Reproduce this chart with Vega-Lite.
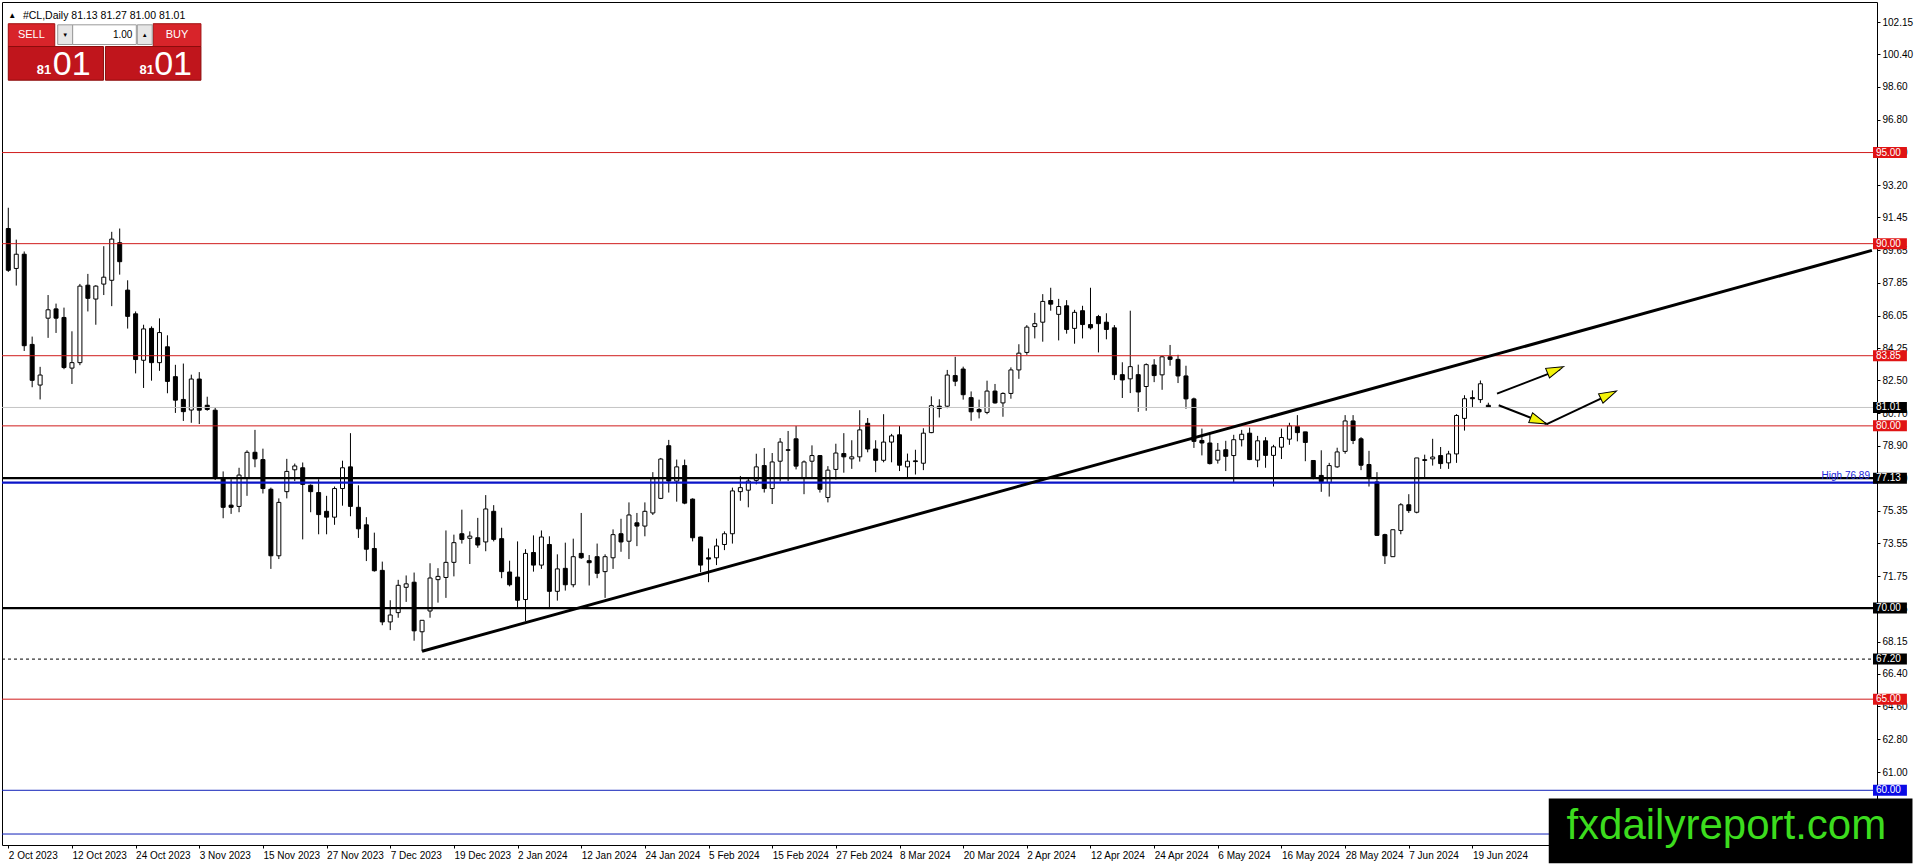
{
  "$schema": "https://vega.github.io/schema/vega-lite/v6.json",
  "width": 1875,
  "height": 843,
  "autosize": {"type": "none"},
  "padding": {"left": 2, "top": 2, "right": 39, "bottom": 21},
  "background": "white",
  "config": {
    "view": {"stroke": "#000000", "strokeWidth": 1},
    "font": "Liberation Sans",
    "axis": {"labelFont": "Liberation Sans", "labelFontSize": 10, "labelColor": "#000000", "tickColor": "#000000", "domain": false, "grid": false, "title": null, "labelOverlap": false, "labelFlush": false}
  },
  "datasets": {
    "one": [{}],
    "bars": [
      {"i":0,"d":"2023-10-02","o":90.83,"h":91.97,"l":88.45,"c":88.54},
      {"i":1,"d":"2023-10-03","o":88.64,"h":90.22,"l":87.70,"c":89.42},
      {"i":2,"d":"2023-10-04","o":89.42,"h":89.57,"l":84.11,"c":84.40},
      {"i":3,"d":"2023-10-05","o":84.47,"h":84.90,"l":82.12,"c":82.50},
      {"i":4,"d":"2023-10-06","o":82.24,"h":83.24,"l":81.45,"c":82.79},
      {"i":5,"d":"2023-10-09","o":85.91,"h":87.18,"l":84.83,"c":86.37},
      {"i":6,"d":"2023-10-10","o":86.42,"h":86.71,"l":85.10,"c":85.91},
      {"i":7,"d":"2023-10-11","o":85.95,"h":86.49,"l":83.11,"c":83.20},
      {"i":8,"d":"2023-10-12","o":83.17,"h":85.19,"l":82.30,"c":83.47},
      {"i":9,"d":"2023-10-13","o":83.47,"h":87.79,"l":83.33,"c":87.67},
      {"i":10,"d":"2023-10-16","o":87.72,"h":88.34,"l":86.28,"c":87.00},
      {"i":11,"d":"2023-10-17","o":86.96,"h":87.72,"l":85.55,"c":87.67},
      {"i":12,"d":"2023-10-18","o":87.78,"h":89.86,"l":87.18,"c":88.16},
      {"i":13,"d":"2023-10-19","o":87.99,"h":90.65,"l":86.57,"c":90.25},
      {"i":14,"d":"2023-10-20","o":90.05,"h":90.83,"l":88.30,"c":89.01},
      {"i":15,"d":"2023-10-23","o":87.45,"h":87.99,"l":85.34,"c":86.01},
      {"i":16,"d":"2023-10-24","o":86.15,"h":86.28,"l":82.88,"c":83.64},
      {"i":17,"d":"2023-10-25","o":83.60,"h":85.55,"l":82.08,"c":85.32},
      {"i":18,"d":"2023-10-26","o":85.35,"h":85.46,"l":82.48,"c":83.47},
      {"i":19,"d":"2023-10-27","o":83.47,"h":85.90,"l":83.02,"c":85.12},
      {"i":20,"d":"2023-10-30","o":84.34,"h":84.97,"l":81.79,"c":82.44},
      {"i":21,"d":"2023-10-31","o":82.70,"h":83.35,"l":80.71,"c":81.41},
      {"i":22,"d":"2023-11-01","o":81.45,"h":83.42,"l":80.27,"c":80.78},
      {"i":23,"d":"2023-11-02","o":80.87,"h":82.81,"l":80.17,"c":82.57},
      {"i":24,"d":"2023-11-03","o":82.57,"h":82.95,"l":80.10,"c":80.86},
      {"i":25,"d":"2023-11-06","o":81.13,"h":81.60,"l":80.83,"c":80.90},
      {"i":26,"d":"2023-11-07","o":80.86,"h":81.00,"l":77.03,"c":77.12},
      {"i":27,"d":"2023-11-08","o":77.12,"h":77.50,"l":74.93,"c":75.53},
      {"i":28,"d":"2023-11-09","o":75.65,"h":77.07,"l":75.17,"c":75.53},
      {"i":29,"d":"2023-11-10","o":75.58,"h":77.70,"l":75.26,"c":77.30},
      {"i":30,"d":"2023-11-13","o":77.16,"h":78.66,"l":76.16,"c":78.55},
      {"i":31,"d":"2023-11-14","o":78.55,"h":79.78,"l":77.73,"c":78.19},
      {"i":32,"d":"2023-11-15","o":78.15,"h":78.75,"l":76.29,"c":76.56},
      {"i":33,"d":"2023-11-16","o":76.52,"h":76.61,"l":72.15,"c":72.87},
      {"i":34,"d":"2023-11-17","o":72.87,"h":76.02,"l":72.69,"c":75.80},
      {"i":35,"d":"2023-11-20","o":76.39,"h":78.19,"l":76.02,"c":77.50},
      {"i":36,"d":"2023-11-21","o":77.59,"h":77.93,"l":76.97,"c":77.80},
      {"i":37,"d":"2023-11-22","o":77.70,"h":77.99,"l":73.77,"c":76.79},
      {"i":38,"d":"2023-11-23","o":76.74,"h":76.79,"l":75.26,"c":76.39},
      {"i":39,"d":"2023-11-24","o":76.34,"h":77.07,"l":74.05,"c":75.13},
      {"i":40,"d":"2023-11-27","o":75.31,"h":76.16,"l":74.05,"c":74.99},
      {"i":41,"d":"2023-11-28","o":74.99,"h":76.67,"l":74.57,"c":76.56},
      {"i":42,"d":"2023-11-29","o":76.56,"h":78.09,"l":75.62,"c":77.70},
      {"i":43,"d":"2023-11-30","o":77.75,"h":79.60,"l":75.04,"c":75.58},
      {"i":44,"d":"2023-12-01","o":75.53,"h":76.74,"l":73.85,"c":74.35},
      {"i":45,"d":"2023-12-04","o":74.57,"h":74.99,"l":72.58,"c":73.23},
      {"i":46,"d":"2023-12-05","o":73.27,"h":74.14,"l":72.00,"c":72.05},
      {"i":47,"d":"2023-12-06","o":72.07,"h":72.55,"l":69.06,"c":69.24},
      {"i":48,"d":"2023-12-07","o":69.24,"h":70.43,"l":68.79,"c":69.62},
      {"i":49,"d":"2023-12-08","o":69.75,"h":71.55,"l":69.47,"c":71.25},
      {"i":50,"d":"2023-12-11","o":71.14,"h":71.79,"l":70.34,"c":71.33},
      {"i":51,"d":"2023-12-12","o":71.42,"h":71.95,"l":68.21,"c":68.75},
      {"i":52,"d":"2023-12-13","o":68.70,"h":69.33,"l":67.63,"c":69.33},
      {"i":53,"d":"2023-12-14","o":69.84,"h":72.46,"l":69.47,"c":71.65},
      {"i":54,"d":"2023-12-15","o":71.56,"h":72.19,"l":70.30,"c":71.74},
      {"i":55,"d":"2023-12-18","o":71.68,"h":74.26,"l":70.56,"c":72.51},
      {"i":56,"d":"2023-12-19","o":72.51,"h":74.03,"l":71.74,"c":73.59},
      {"i":57,"d":"2023-12-20","o":74.08,"h":75.40,"l":73.54,"c":73.77},
      {"i":58,"d":"2023-12-21","o":73.83,"h":74.21,"l":72.42,"c":73.95},
      {"i":59,"d":"2023-12-22","o":73.86,"h":74.95,"l":73.31,"c":73.46},
      {"i":60,"d":"2023-12-26","o":73.63,"h":76.20,"l":73.12,"c":75.44},
      {"i":61,"d":"2023-12-27","o":75.31,"h":75.65,"l":73.66,"c":73.77},
      {"i":62,"d":"2023-12-28","o":73.81,"h":74.41,"l":71.64,"c":72.00},
      {"i":63,"d":"2023-12-29","o":71.98,"h":72.60,"l":71.19,"c":71.28},
      {"i":64,"d":"2024-01-02","o":71.70,"h":73.66,"l":70.05,"c":70.43},
      {"i":65,"d":"2024-01-03","o":70.47,"h":73.23,"l":69.29,"c":73.00},
      {"i":66,"d":"2024-01-04","o":73.05,"h":73.99,"l":72.00,"c":72.36},
      {"i":67,"d":"2024-01-05","o":72.36,"h":74.26,"l":72.15,"c":73.90},
      {"i":68,"d":"2024-01-08","o":73.49,"h":73.94,"l":70.05,"c":70.92},
      {"i":69,"d":"2024-01-09","o":70.92,"h":72.95,"l":70.41,"c":72.15},
      {"i":70,"d":"2024-01-10","o":72.18,"h":73.59,"l":70.96,"c":71.28},
      {"i":71,"d":"2024-01-11","o":71.28,"h":73.81,"l":71.14,"c":72.82},
      {"i":72,"d":"2024-01-12","o":73.00,"h":75.22,"l":72.70,"c":72.76},
      {"i":73,"d":"2024-01-15","o":72.60,"h":72.91,"l":71.24,"c":72.49},
      {"i":74,"d":"2024-01-16","o":72.82,"h":73.54,"l":71.64,"c":71.91},
      {"i":75,"d":"2024-01-17","o":72.00,"h":72.95,"l":70.56,"c":72.82},
      {"i":76,"d":"2024-01-18","o":72.76,"h":74.32,"l":72.15,"c":74.03},
      {"i":77,"d":"2024-01-19","o":74.08,"h":74.90,"l":73.09,"c":73.63},
      {"i":78,"d":"2024-01-22","o":73.67,"h":75.80,"l":72.69,"c":75.11},
      {"i":79,"d":"2024-01-23","o":74.68,"h":75.22,"l":73.40,"c":74.50},
      {"i":80,"d":"2024-01-24","o":74.50,"h":75.80,"l":73.94,"c":75.31},
      {"i":81,"d":"2024-01-25","o":75.22,"h":77.46,"l":75.11,"c":77.10},
      {"i":82,"d":"2024-01-26","o":76.02,"h":78.24,"l":75.98,"c":78.18},
      {"i":83,"d":"2024-01-29","o":78.91,"h":79.23,"l":76.34,"c":76.97},
      {"i":84,"d":"2024-01-30","o":76.97,"h":78.15,"l":75.84,"c":77.75},
      {"i":85,"d":"2024-01-31","o":77.82,"h":78.15,"l":75.70,"c":75.76},
      {"i":86,"d":"2024-02-01","o":75.98,"h":76.02,"l":73.66,"c":73.86},
      {"i":87,"d":"2024-02-02","o":73.90,"h":73.92,"l":71.97,"c":72.36},
      {"i":88,"d":"2024-02-05","o":72.76,"h":73.27,"l":71.42,"c":72.69},
      {"i":89,"d":"2024-02-06","o":72.76,"h":73.81,"l":72.36,"c":73.41},
      {"i":90,"d":"2024-02-07","o":73.49,"h":74.21,"l":73.18,"c":74.08},
      {"i":91,"d":"2024-02-08","o":74.08,"h":76.61,"l":73.54,"c":76.43},
      {"i":92,"d":"2024-02-09","o":76.39,"h":77.25,"l":75.89,"c":76.61},
      {"i":93,"d":"2024-02-12","o":76.47,"h":77.10,"l":75.53,"c":76.97},
      {"i":94,"d":"2024-02-13","o":77.01,"h":78.47,"l":76.79,"c":77.75},
      {"i":95,"d":"2024-02-14","o":77.82,"h":78.78,"l":76.34,"c":76.56},
      {"i":96,"d":"2024-02-15","o":76.56,"h":78.51,"l":75.71,"c":78.02},
      {"i":97,"d":"2024-02-16","o":78.06,"h":79.33,"l":76.95,"c":79.11},
      {"i":98,"d":"2024-02-19","o":78.69,"h":79.72,"l":76.97,"c":78.66},
      {"i":99,"d":"2024-02-20","o":79.29,"h":79.99,"l":77.61,"c":77.79},
      {"i":100,"d":"2024-02-21","o":77.14,"h":78.10,"l":76.25,"c":78.02},
      {"i":101,"d":"2024-02-22","o":78.06,"h":78.93,"l":77.14,"c":78.37},
      {"i":102,"d":"2024-02-23","o":78.37,"h":78.40,"l":76.34,"c":76.52},
      {"i":103,"d":"2024-02-26","o":76.07,"h":77.79,"l":75.80,"c":77.57},
      {"i":104,"d":"2024-02-27","o":77.61,"h":79.02,"l":77.06,"c":78.51},
      {"i":105,"d":"2024-02-28","o":78.48,"h":79.60,"l":77.43,"c":78.30},
      {"i":106,"d":"2024-02-29","o":78.19,"h":79.21,"l":77.64,"c":78.30},
      {"i":107,"d":"2024-03-01","o":78.30,"h":80.86,"l":78.04,"c":79.78},
      {"i":108,"d":"2024-03-04","o":80.14,"h":80.43,"l":78.55,"c":78.73},
      {"i":109,"d":"2024-03-05","o":78.73,"h":79.21,"l":77.46,"c":78.11},
      {"i":110,"d":"2024-03-06","o":78.11,"h":80.64,"l":78.00,"c":79.11},
      {"i":111,"d":"2024-03-07","o":79.11,"h":79.56,"l":78.00,"c":79.45},
      {"i":112,"d":"2024-03-08","o":79.51,"h":79.99,"l":77.52,"c":77.84},
      {"i":113,"d":"2024-03-11","o":77.75,"h":78.48,"l":77.14,"c":78.06},
      {"i":114,"d":"2024-03-12","o":78.08,"h":78.69,"l":77.33,"c":78.04},
      {"i":115,"d":"2024-03-13","o":77.95,"h":79.87,"l":77.57,"c":79.60},
      {"i":116,"d":"2024-03-14","o":79.63,"h":81.62,"l":79.60,"c":81.11},
      {"i":117,"d":"2024-03-15","o":81.08,"h":81.46,"l":80.46,"c":80.95},
      {"i":118,"d":"2024-03-18","o":81.08,"h":83.07,"l":80.97,"c":82.79},
      {"i":119,"d":"2024-03-19","o":82.76,"h":83.79,"l":82.18,"c":82.45},
      {"i":120,"d":"2024-03-20","o":83.12,"h":83.25,"l":81.44,"c":81.71},
      {"i":121,"d":"2024-03-21","o":81.55,"h":81.89,"l":80.28,"c":80.77},
      {"i":122,"d":"2024-03-22","o":80.90,"h":81.44,"l":80.41,"c":80.77},
      {"i":123,"d":"2024-03-25","o":80.74,"h":82.48,"l":80.64,"c":81.91},
      {"i":124,"d":"2024-03-26","o":81.91,"h":82.30,"l":81.22,"c":81.26},
      {"i":125,"d":"2024-03-27","o":81.26,"h":81.84,"l":80.50,"c":81.78},
      {"i":126,"d":"2024-03-28","o":81.78,"h":83.21,"l":81.49,"c":83.07},
      {"i":127,"d":"2024-04-01","o":83.07,"h":84.48,"l":82.58,"c":83.99},
      {"i":128,"d":"2024-04-02","o":84.03,"h":85.53,"l":83.90,"c":85.42},
      {"i":129,"d":"2024-04-03","o":85.45,"h":86.20,"l":84.80,"c":85.61},
      {"i":130,"d":"2024-04-04","o":85.69,"h":87.23,"l":84.62,"c":86.83},
      {"i":131,"d":"2024-04-05","o":86.88,"h":87.58,"l":86.32,"c":86.68},
      {"i":132,"d":"2024-04-08","o":86.12,"h":86.97,"l":84.69,"c":86.55},
      {"i":133,"d":"2024-04-09","o":86.59,"h":86.90,"l":85.06,"c":85.29},
      {"i":134,"d":"2024-04-10","o":85.35,"h":86.37,"l":84.51,"c":86.23},
      {"i":135,"d":"2024-04-11","o":86.32,"h":86.59,"l":84.80,"c":85.56},
      {"i":136,"d":"2024-04-12","o":85.56,"h":87.58,"l":85.29,"c":85.38},
      {"i":137,"d":"2024-04-15","o":86.00,"h":86.09,"l":84.03,"c":85.61},
      {"i":138,"d":"2024-04-16","o":85.69,"h":86.18,"l":84.75,"c":85.29},
      {"i":139,"d":"2024-04-17","o":85.38,"h":85.53,"l":82.52,"c":82.81},
      {"i":140,"d":"2024-04-18","o":82.81,"h":83.49,"l":81.53,"c":82.52},
      {"i":141,"d":"2024-04-19","o":82.58,"h":86.32,"l":81.80,"c":83.25},
      {"i":142,"d":"2024-04-22","o":82.81,"h":83.36,"l":80.77,"c":81.86},
      {"i":143,"d":"2024-04-23","o":82.16,"h":83.43,"l":80.83,"c":83.36},
      {"i":144,"d":"2024-04-24","o":83.34,"h":83.66,"l":82.40,"c":82.76},
      {"i":145,"d":"2024-04-25","o":82.80,"h":83.85,"l":81.98,"c":83.79},
      {"i":146,"d":"2024-04-26","o":83.79,"h":84.44,"l":83.30,"c":83.65},
      {"i":147,"d":"2024-04-29","o":83.65,"h":83.90,"l":82.35,"c":82.74},
      {"i":148,"d":"2024-04-30","o":82.74,"h":83.30,"l":80.94,"c":81.48},
      {"i":149,"d":"2024-05-01","o":81.48,"h":81.55,"l":78.79,"c":79.15},
      {"i":150,"d":"2024-05-02","o":79.20,"h":79.85,"l":78.38,"c":79.06},
      {"i":151,"d":"2024-05-03","o":79.06,"h":79.56,"l":77.88,"c":77.93},
      {"i":152,"d":"2024-05-06","o":78.12,"h":79.06,"l":77.93,"c":78.66},
      {"i":153,"d":"2024-05-07","o":78.69,"h":79.18,"l":77.52,"c":78.33},
      {"i":154,"d":"2024-05-08","o":78.37,"h":79.51,"l":76.92,"c":79.24},
      {"i":155,"d":"2024-05-09","o":79.24,"h":79.78,"l":78.87,"c":79.54},
      {"i":156,"d":"2024-05-10","o":79.60,"h":79.90,"l":78.12,"c":78.15},
      {"i":157,"d":"2024-05-13","o":78.12,"h":79.45,"l":77.73,"c":79.18},
      {"i":158,"d":"2024-05-14","o":79.18,"h":79.38,"l":77.70,"c":78.38},
      {"i":159,"d":"2024-05-15","o":78.38,"h":78.96,"l":76.67,"c":78.85},
      {"i":160,"d":"2024-05-16","o":78.83,"h":79.85,"l":78.18,"c":79.36},
      {"i":161,"d":"2024-05-17","o":79.27,"h":80.17,"l":78.96,"c":80.00},
      {"i":162,"d":"2024-05-20","o":79.96,"h":80.59,"l":79.15,"c":79.63},
      {"i":163,"d":"2024-05-21","o":79.67,"h":79.67,"l":78.06,"c":79.09},
      {"i":164,"d":"2024-05-22","o":78.10,"h":78.10,"l":77.07,"c":77.12},
      {"i":165,"d":"2024-05-23","o":77.28,"h":78.66,"l":76.38,"c":76.94},
      {"i":166,"d":"2024-05-24","o":76.89,"h":77.97,"l":76.12,"c":77.82},
      {"i":167,"d":"2024-05-27","o":77.75,"h":78.80,"l":77.70,"c":78.57},
      {"i":168,"d":"2024-05-28","o":78.60,"h":80.59,"l":78.47,"c":80.27},
      {"i":169,"d":"2024-05-29","o":80.27,"h":80.59,"l":79.00,"c":79.20},
      {"i":170,"d":"2024-05-30","o":79.29,"h":79.38,"l":77.57,"c":77.84},
      {"i":171,"d":"2024-05-31","o":77.88,"h":78.63,"l":76.67,"c":77.16},
      {"i":172,"d":"2024-06-03","o":76.92,"h":77.46,"l":73.96,"c":73.99},
      {"i":173,"d":"2024-06-04","o":74.03,"h":74.08,"l":72.42,"c":72.87},
      {"i":174,"d":"2024-06-05","o":72.82,"h":74.30,"l":72.82,"c":74.30},
      {"i":175,"d":"2024-06-06","o":74.26,"h":75.76,"l":74.05,"c":75.67},
      {"i":176,"d":"2024-06-07","o":75.67,"h":76.25,"l":75.22,"c":75.35},
      {"i":177,"d":"2024-06-10","o":75.26,"h":78.24,"l":75.20,"c":78.24},
      {"i":178,"d":"2024-06-11","o":78.10,"h":78.42,"l":77.16,"c":78.15},
      {"i":179,"d":"2024-06-12","o":78.19,"h":79.29,"l":77.82,"c":78.29},
      {"i":180,"d":"2024-06-13","o":78.37,"h":78.84,"l":77.64,"c":77.93},
      {"i":181,"d":"2024-06-14","o":77.97,"h":78.63,"l":77.64,"c":78.46},
      {"i":182,"d":"2024-06-17","o":78.46,"h":80.64,"l":77.97,"c":80.57},
      {"i":183,"d":"2024-06-18","o":80.41,"h":81.68,"l":79.74,"c":81.49},
      {"i":184,"d":"2024-06-19","o":81.55,"h":81.95,"l":81.01,"c":81.49},
      {"i":185,"d":"2024-06-20","o":81.44,"h":82.49,"l":81.26,"c":82.31},
      {"i":186,"d":"2024-06-21","o":81.13,"h":81.27,"l":81.00,"c":81.01}
    ],
    "levels": [
      {"price":95.00,"kind":"level"},
      {"price":90.00,"kind":"level"},
      {"price":83.85,"kind":"level"},
      {"price":81.01,"kind":"bid"},
      {"price":80.00,"kind":"level"},
      {"price":77.13,"kind":"pivot"},
      {"price":76.89,"kind":"high"},
      {"price":70.00,"kind":"pivot"},
      {"price":67.20,"kind":"low"},
      {"price":65.00,"kind":"level"},
      {"price":60.00,"kind":"target"},
      {"price":57.60,"kind":"target"}
    ]
  },
  "layer": [
    {
      "data": {"name": "bars"},
      "mark": {"type": "rule", "color": "#000000", "strokeWidth": 1, "clip": true},
      "encoding": {
        "x": {"field": "i", "type": "quantitative", "scale": {"domain": [-0.1625, 234.2125], "nice": false, "zero": false},
          "axis": {"orient": "bottom", "values": [0,8,16,24,32,40,48,56,64,72,80,88,96,104,112,120,128,136,144,152,160,168,176,184], "tickCount": 60,
            "labelExpr": "['2 Oct 2023','12 Oct 2023','24 Oct 2023','3 Nov 2023','15 Nov 2023','27 Nov 2023','7 Dec 2023','19 Dec 2023','2 Jan 2024','12 Jan 2024','24 Jan 2024','5 Feb 2024','15 Feb 2024','27 Feb 2024','8 Mar 2024','20 Mar 2024','2 Apr 2024','12 Apr 2024','24 Apr 2024','6 May 2024','16 May 2024','28 May 2024','7 Jun 2024','19 Jun 2024'][round(datum.value/8)]",
            "labelAlign": "left", "labelPadding": 2, "tickSize": 3, "labelFlush": false, "labelOverlap": false}},
        "y": {"field": "l", "type": "quantitative", "scale": {"domain": [57.272, 102.988], "nice": false, "zero": false},
          "axis": {"orient": "right", "values": [102.15,100.4,98.6,96.8,95.0,93.2,91.45,89.65,87.85,86.05,84.25,82.5,80.7,78.9,77.1,75.35,73.55,71.75,69.95,68.15,66.4,64.6,62.8,61.0,59.2], "tickCount": 60,
            "format": ".2f", "tickSize": 3, "labelPadding": 2, "labelOverlap": false, "labelFlush": false, "labelBound": false}},
        "y2": {"field": "h"}
      }
    },
    {
      "data": {"name": "bars"},
      "mark": {"type": "bar", "width": 4, "stroke": "#000000", "strokeWidth": 1, "clip": true},
      "encoding": {
        "x": {"field": "i", "type": "quantitative"},
        "y": {"field": "o", "type": "quantitative"},
        "y2": {"field": "c"},
        "fill": {"condition": {"test": "datum.c >= datum.o", "value": "#ffffff"}, "value": "#000000"}
      }
    },
    {
      "data": {"name": "levels"},
      "transform": [{"filter": "datum.kind == 'level'"}],
      "mark": {"type": "rule", "color": "#d01c1c", "strokeWidth": 1, "clip": true},
      "encoding": {"y": {"field": "price", "type": "quantitative"}}
    },
    {
      "data": {"name": "levels"},
      "transform": [{"filter": "datum.kind == 'bid'"}],
      "mark": {"type": "rule", "color": "#c4c4c4", "strokeWidth": 1, "clip": true},
      "encoding": {"y": {"field": "price", "type": "quantitative"}}
    },
    {
      "data": {"name": "levels"},
      "transform": [{"filter": "datum.kind == 'pivot'"}],
      "mark": {"type": "rule", "color": "#000000", "strokeWidth": 2.2, "clip": true},
      "encoding": {"y": {"field": "price", "type": "quantitative"}}
    },
    {
      "data": {"name": "levels"},
      "transform": [{"filter": "datum.kind == 'low'"}],
      "mark": {"type": "rule", "color": "#000000", "strokeWidth": 1, "strokeDash": [3, 3], "clip": true},
      "encoding": {"y": {"field": "price", "type": "quantitative"}}
    },
    {
      "data": {"name": "levels"},
      "transform": [{"filter": "datum.kind == 'high'"}],
      "mark": {"type": "rule", "color": "#0a14c8", "strokeWidth": 2.2, "clip": true},
      "encoding": {"y": {"field": "price", "type": "quantitative"}}
    },
    {
      "data": {"name": "levels"},
      "transform": [{"filter": "datum.kind == 'target'"}],
      "mark": {"type": "rule", "color": "#1020b8", "strokeWidth": 1, "clip": true},
      "encoding": {"y": {"field": "price", "type": "quantitative"}}
    },
    {
      "data": {"name": "one"},
      "mark": {"type": "rule", "color": "#000000", "strokeWidth": 3, "clip": true},
      "encoding": {
        "x": {"datum": 52.0, "type": "quantitative"},
        "x2": {"datum": 234.2},
        "y": {"datum": 67.63, "type": "quantitative"},
        "y2": {"datum": 89.63}
      }
    },
    {
      "data": {"name": "one"},
      "mark": {"type": "rule", "color": "#000000", "strokeWidth": 2, "clip": true},
      "encoding": {"x": {"datum": 187.09, "type": "quantitative"}, "x2": {"datum": 195.0}, "y": {"datum": 81.77, "type": "quantitative"}, "y2": {"datum": 83.1}}
    },
    {
      "data": {"name": "one"},
      "mark": {"type": "rule", "color": "#000000", "strokeWidth": 2, "clip": true},
      "encoding": {"x": {"datum": 187.3, "type": "quantitative"}, "x2": {"datum": 193.34}, "y": {"datum": 81.13, "type": "quantitative"}, "y2": {"datum": 80.10}}
    },
    {
      "data": {"name": "one"},
      "mark": {"type": "rule", "color": "#000000", "strokeWidth": 2, "clip": true},
      "encoding": {"x": {"datum": 193.34, "type": "quantitative"}, "x2": {"datum": 201.6}, "y": {"datum": 80.10, "type": "quantitative"}, "y2": {"datum": 81.8}}
    },
    {
      "data": {"name": "one"},
      "mark": {"type": "point", "shape": "M0,0L0.6,2L-0.6,2Z", "filled": true, "fill": "#f2f20a", "stroke": "#000000", "strokeWidth": 1, "opacity": 1, "size": 300, "angle": 68},
      "encoding": {"x": {"datum": 195.46, "type": "quantitative"}, "y": {"datum": 83.25, "type": "quantitative"}}
    },
    {
      "data": {"name": "one"},
      "mark": {"type": "point", "shape": "M0,0L0.6,2L-0.6,2Z", "filled": true, "fill": "#f2f20a", "stroke": "#000000", "strokeWidth": 1, "opacity": 1, "size": 300, "angle": 111.5},
      "encoding": {"x": {"datum": 193.34, "type": "quantitative"}, "y": {"datum": 80.10, "type": "quantitative"}}
    },
    {
      "data": {"name": "one"},
      "mark": {"type": "point", "shape": "M0,0L0.6,2L-0.6,2Z", "filled": true, "fill": "#f2f20a", "stroke": "#000000", "strokeWidth": 1, "opacity": 1, "size": 300, "angle": 64.6},
      "encoding": {"x": {"datum": 202.09, "type": "quantitative"}, "y": {"datum": 81.91, "type": "quantitative"}}
    },
    {
      "data": {"name": "one"},
      "mark": {"type": "text", "text": "High   76.89", "color": "#1a28d8", "fontSize": 10, "align": "right", "baseline": "bottom", "font": "Liberation Sans"},
      "encoding": {"x": {"datum": 233.96, "type": "quantitative"}, "y": {"datum": 76.96, "type": "quantitative"}}
    },
    {
      "data": {"name": "levels"},
      "transform": [{"filter": "datum.kind != 'high'"}],
      "mark": {"type": "bar", "height": 11, "clip": false},
      "encoding": {
        "x": {"datum": 234.34, "type": "quantitative"},
        "x2": {"datum": 238.6},
        "y": {"field": "price", "type": "quantitative"},
        "fill": {"field": "kind", "type": "nominal", "legend": null,
          "scale": {"domain": ["level", "bid", "pivot", "low", "target"], "range": ["#e01414", "#000000", "#000000", "#000000", "#0a0ae6"]}}
      }
    },
    {
      "data": {"name": "levels"},
      "transform": [{"filter": "datum.kind != 'high'"}],
      "mark": {"type": "text", "color": "#ffffff", "fontSize": 10, "align": "left", "baseline": "middle", "font": "Liberation Sans", "clip": false},
      "encoding": {
        "x": {"datum": 234.7, "type": "quantitative"},
        "y": {"field": "price", "type": "quantitative"},
        "text": {"field": "price", "type": "quantitative", "format": ".2f"}
      }
    },
    {
      "data": {"name": "one"},
      "mark": {"type": "text", "text": "▲", "color": "#000000", "fontSize": 8, "align": "center", "baseline": "middle"},
      "encoding": {"x": {"datum": 0.5, "type": "quantitative"}, "y": {"datum": 102.5, "type": "quantitative"}}
    },
    {
      "data": {"name": "one"},
      "mark": {"type": "text", "text": "#CL,Daily  81.13 81.27 81.00 81.01", "color": "#000000", "fontSize": 10.5, "align": "left", "baseline": "middle", "font": "Liberation Sans"},
      "encoding": {"x": {"datum": 1.84, "type": "quantitative"}, "y": {"datum": 102.5, "type": "quantitative"}}
    },
    {
      "data": {"name": "one"},
      "mark": {"type": "rect", "fill": "#d8242a", "stroke": "#a01010", "strokeWidth": 1},
      "encoding": {"x": {"datum": 0.0, "type": "quantitative"}, "x2": {"datum": 5.84}, "y": {"datum": 102.07, "type": "quantitative"}, "y2": {"datum": 100.82}}
    },
    {
      "data": {"name": "one"},
      "mark": {"type": "rect", "fill": "#d8242a", "stroke": "#a01010", "strokeWidth": 1},
      "encoding": {"x": {"datum": 18.21, "type": "quantitative"}, "x2": {"datum": 24.21}, "y": {"datum": 102.07, "type": "quantitative"}, "y2": {"datum": 100.82}}
    },
    {
      "data": {"name": "one"},
      "mark": {"type": "rect", "fill": "#e6e6e6", "stroke": "#9a9a9a", "strokeWidth": 1},
      "encoding": {"x": {"datum": 6.21, "type": "quantitative"}, "x2": {"datum": 8.09}, "y": {"datum": 102.01, "type": "quantitative"}, "y2": {"datum": 100.93}}
    },
    {
      "data": {"name": "one"},
      "mark": {"type": "rect", "fill": "#ffffff", "stroke": "#9a9a9a", "strokeWidth": 1},
      "encoding": {"x": {"datum": 8.09, "type": "quantitative"}, "x2": {"datum": 16.09}, "y": {"datum": 102.01, "type": "quantitative"}, "y2": {"datum": 100.93}}
    },
    {
      "data": {"name": "one"},
      "mark": {"type": "rect", "fill": "#e6e6e6", "stroke": "#9a9a9a", "strokeWidth": 1},
      "encoding": {"x": {"datum": 16.21, "type": "quantitative"}, "x2": {"datum": 18.09}, "y": {"datum": 102.01, "type": "quantitative"}, "y2": {"datum": 100.93}}
    },
    {
      "data": {"name": "one"},
      "mark": {"type": "rect", "fill": "#c0151c", "stroke": "#8c0c0c", "strokeWidth": 1},
      "encoding": {"x": {"datum": 0.0, "type": "quantitative"}, "x2": {"datum": 11.96}, "y": {"datum": 100.82, "type": "quantitative"}, "y2": {"datum": 98.97}}
    },
    {
      "data": {"name": "one"},
      "mark": {"type": "rect", "fill": "#c0151c", "stroke": "#8c0c0c", "strokeWidth": 1},
      "encoding": {"x": {"datum": 12.21, "type": "quantitative"}, "x2": {"datum": 24.21}, "y": {"datum": 100.82, "type": "quantitative"}, "y2": {"datum": 98.97}}
    },
    {
      "data": {"name": "one"},
      "mark": {"type": "text", "text": "SELL", "color": "#ffffff", "fontSize": 11, "align": "center", "baseline": "middle"},
      "encoding": {"x": {"datum": 2.9, "type": "quantitative"}, "y": {"datum": 101.45, "type": "quantitative"}}
    },
    {
      "data": {"name": "one"},
      "mark": {"type": "text", "text": "BUY", "color": "#ffffff", "fontSize": 11, "align": "center", "baseline": "middle"},
      "encoding": {"x": {"datum": 21.21, "type": "quantitative"}, "y": {"datum": 101.45, "type": "quantitative"}}
    },
    {
      "data": {"name": "one"},
      "mark": {"type": "text", "text": "1.00", "color": "#000000", "fontSize": 10, "align": "right", "baseline": "middle"},
      "encoding": {"x": {"datum": 15.59, "type": "quantitative"}, "y": {"datum": 101.47, "type": "quantitative"}}
    },
    {
      "data": {"name": "one"},
      "mark": {"type": "text", "text": "▼", "color": "#000000", "fontSize": 6, "align": "center", "baseline": "middle"},
      "encoding": {"x": {"datum": 7.15, "type": "quantitative"}, "y": {"datum": 101.47, "type": "quantitative"}}
    },
    {
      "data": {"name": "one"},
      "mark": {"type": "text", "text": "▲", "color": "#000000", "fontSize": 6, "align": "center", "baseline": "middle"},
      "encoding": {"x": {"datum": 17.15, "type": "quantitative"}, "y": {"datum": 101.47, "type": "quantitative"}}
    },
    {
      "data": {"name": "one"},
      "mark": {"type": "text", "text": "81", "color": "#ffffff", "fontSize": 13, "fontWeight": "bold", "align": "center", "baseline": "alphabetic"},
      "encoding": {"x": {"datum": 4.5, "type": "quantitative"}, "y": {"datum": 99.3, "type": "quantitative"}}
    },
    {
      "data": {"name": "one"},
      "mark": {"type": "text", "text": "01", "color": "#ffffff", "fontSize": 34, "align": "center", "baseline": "alphabetic"},
      "encoding": {"x": {"datum": 7.96, "type": "quantitative"}, "y": {"datum": 99.25, "type": "quantitative"}}
    },
    {
      "data": {"name": "one"},
      "mark": {"type": "text", "text": "81", "color": "#ffffff", "fontSize": 13, "fontWeight": "bold", "align": "center", "baseline": "alphabetic"},
      "encoding": {"x": {"datum": 17.4, "type": "quantitative"}, "y": {"datum": 99.3, "type": "quantitative"}}
    },
    {
      "data": {"name": "one"},
      "mark": {"type": "text", "text": "01", "color": "#ffffff", "fontSize": 34, "align": "center", "baseline": "alphabetic"},
      "encoding": {"x": {"datum": 20.71, "type": "quantitative"}, "y": {"datum": 99.25, "type": "quantitative"}}
    },
    {
      "data": {"name": "one"},
      "mark": {"type": "rect", "fill": "#000000", "clip": false},
      "encoding": {"x": {"datum": 193.59, "type": "quantitative"}, "x2": {"datum": 239.3}, "y": {"datum": 59.55, "type": "quantitative"}, "y2": {"datum": 56.0}}
    },
    {
      "data": {"name": "one"},
      "mark": {"type": "text", "text": "fxdailyreport.com", "color": "#3cdc1e", "fontSize": 42, "align": "center", "baseline": "alphabetic", "font": "Liberation Sans", "clip": false},
      "encoding": {"x": {"datum": 215.9, "type": "quantitative"}, "y": {"datum": 57.34, "type": "quantitative"}}
    }
  ]
}
